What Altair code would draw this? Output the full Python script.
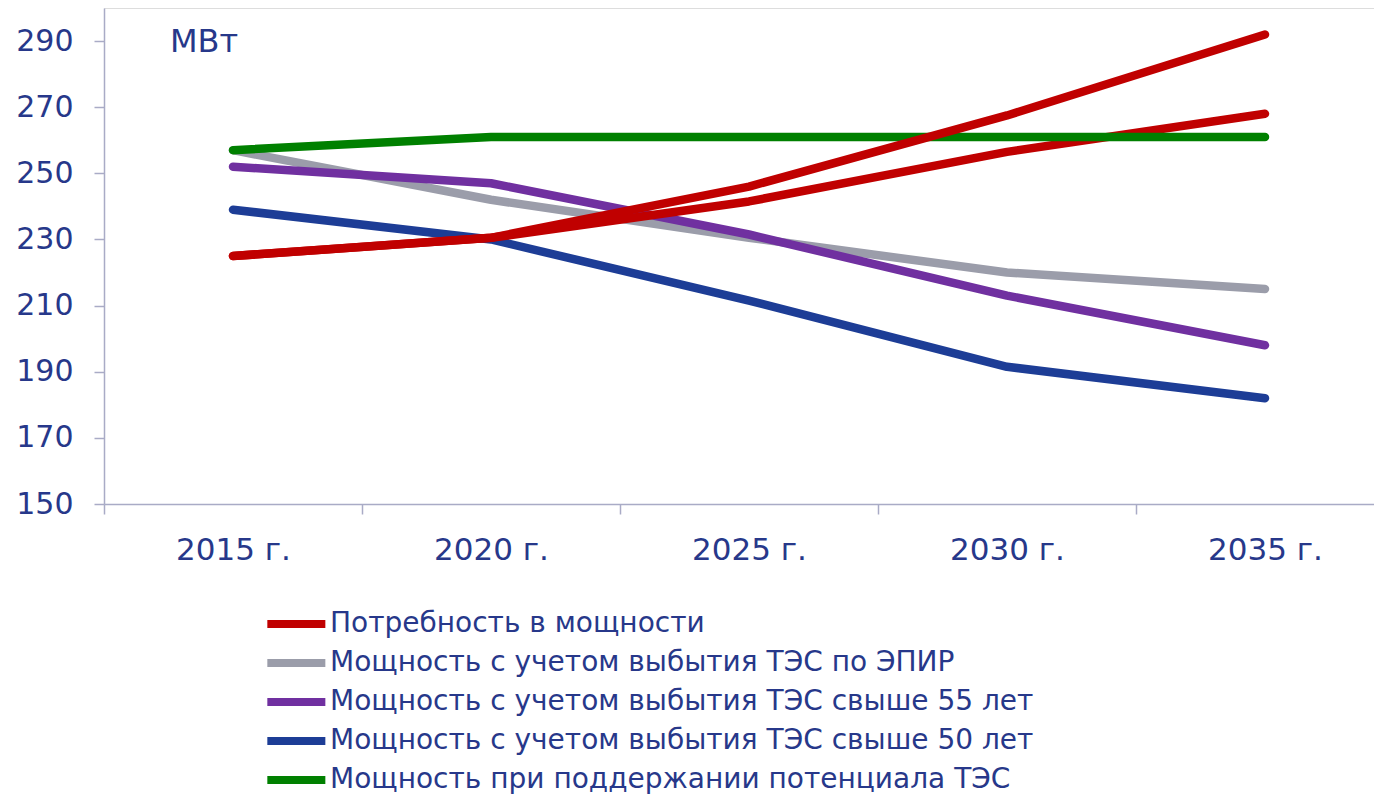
import altair as alt
import pandas as pd

years = ["2015 г.", "2020 г.", "2025 г.", "2030 г.", "2035 г."]

demand = [225, 230.5, 246, 267.5, 292]
demand_alt = [225, 230.5, 241.5, 256.5, 268]
epir = [257, 242, 230.5, 220, 215]
over55 = [252, 247, 231.5, 213, 198]
over50 = [239, 230, 211.5, 191.5, 182]
keep = [257, 261, 261, 261, 261]

names = [
    "Потребность в мощности",
    "Мощность с учетом выбытия ТЭС по ЭПИР",
    "Мощность с учетом выбытия ТЭС свыше 55 лет",
    "Мощность с учетом выбытия ТЭС свыше 50 лет",
    "Мощность при поддержании потенциала ТЭС",
]
colors = ["#C00000", "#9B9DAA", "#7030A0", "#1D3D96", "#008000"]
y_ticks = [150, 170, 190, 210, 230, 250, 270, 290]
unit_label = ["МВт"]

TEXT = "#27388A"
AXIS = "#A9ABC6"
FONT = "DejaVu Sans"

rows = []
for key, vals in [("demand", demand), ("demand_alt", demand_alt), ("epir", epir),
                  ("over55", over55), ("over50", over50), ("keep", keep)]:
    for yr, v in zip(years, vals):
        rows.append({"key": key, "year": yr, "value": v})
df = pd.DataFrame(rows)
series_name = {"demand": names[0], "demand_alt": names[0] + " ", "epir": names[1],
               "over55": names[2], "over50": names[3], "keep": names[4]}
df["series"] = df["key"].map(series_name)

x_enc = alt.X(
    "year:N", sort=years, bandPosition=0.5,
    scale=alt.Scale(type="band", domain=years, range=[0, 1290], paddingInner=0, paddingOuter=0),
    axis=alt.Axis(title=None, tickBand="extent", tickSize=10, labelPadding=21,
                  labelFontSize=31, labelFont=FONT, labelColor=TEXT, labelAngle=0,
                  domainColor=AXIS, tickColor=AXIS, domainWidth=1.5, tickWidth=1.5,
                  grid=False, labelFlush=False, labelOverlap=False),
)
y_enc = alt.Y(
    "value:Q",
    scale=alt.Scale(domain=[150, 300], nice=False, zero=False),
    axis=alt.Axis(title=None, values=y_ticks, tickSize=10, labelPadding=21,
                  labelFontSize=30, labelFont=FONT, labelColor=TEXT,
                  domainColor=AXIS, tickColor=AXIS, domainWidth=1.5, tickWidth=1.5,
                  grid=False),
)

color_enc = alt.Color(
    "series:N",
    scale=alt.Scale(domain=names, range=colors),
    legend=alt.Legend(
        orient="none", legendX=159, legendY=602, direction="vertical", title=None,
        symbolType="M-1,0H5", symbolSize=374, symbolStrokeWidth=8, labelOffset=39,
        labelFontSize=28, labelFont=FONT, labelColor=TEXT, rowPadding=7,
        padding=0, labelLimit=2000, symbolOpacity=1,
    ),
)

base = alt.Chart(df)


def series_layer(key, legend=True):
    ch = base.transform_filter(alt.datum.key == key).mark_line(
        strokeWidth=8.5, strokeCap="round", strokeJoin="round"
    )
    if legend:
        return ch.encode(x=x_enc, y=y_enc, color=color_enc)
    return ch.encode(x=x_enc, y=y_enc, color=alt.value(colors[0]))


unit = alt.Chart(pd.DataFrame({"t": unit_label})).mark_text(
    align="left", baseline="middle", fontSize=32, font=FONT, color=TEXT
).encode(x=alt.value(66), y=alt.value(34), text="t:N")

chart = alt.layer(
    series_layer("epir"),
    series_layer("over55"),
    series_layer("over50"),
    series_layer("demand_alt", legend=False),
    series_layer("keep"),
    series_layer("demand"),
    unit,
).properties(
    width=1270, height=496,
    autosize=alt.AutoSizeParams(type="none"),
    padding={"left": 96, "top": 0, "right": 0, "bottom": 292},
).configure_view(stroke=None).configure(background="white")

chart.save("out.html", embed_options={"renderer": "svg", "actions": False})
